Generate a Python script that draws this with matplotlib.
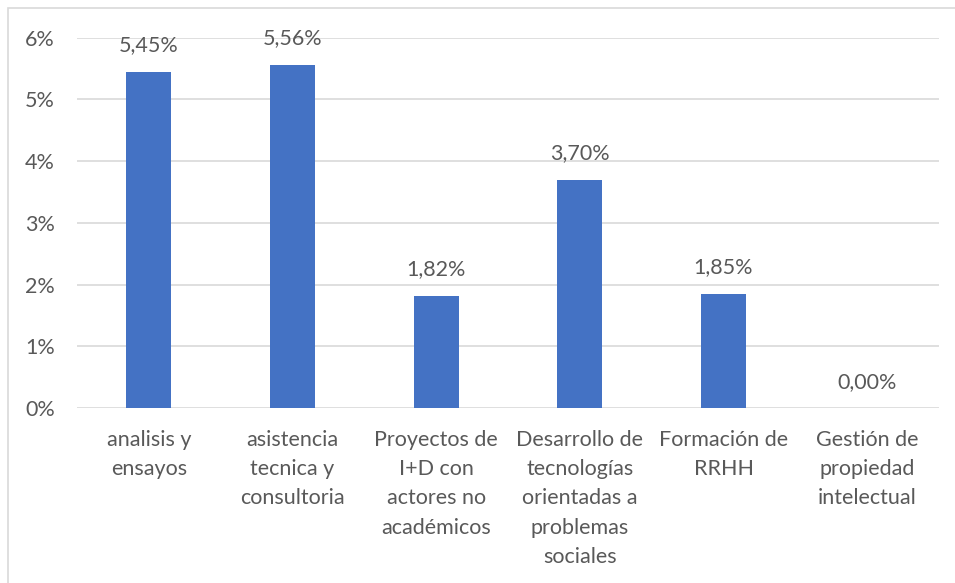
import matplotlib
matplotlib.use("Agg")
import matplotlib.pyplot as plt
from matplotlib.patches import Rectangle
from matplotlib.ticker import FuncFormatter

categories = ["analisis y\nensayos", "asistencia\ntecnica y\nconsultoria",
              "Proyectos de\nI+D con\nactores no\nacadémicos",
              "Desarrollo de\ntecnologías\norientadas a\nproblemas\nsociales",
              "Formación de\nRRHH", "Gestión de\npropiedad\nintelectual"]
values = [0.0545, 0.0556, 0.0182, 0.0370, 0.0185, 0.0000]
value_labels = ["5,45%", "5,56%", "1,82%", "3,70%", "1,85%", "0,00%"]
yticks = [0, 0.01, 0.02, 0.03, 0.04, 0.05, 0.06]

plt.rcParams['font.family'] = ['Lato', 'DejaVu Sans']
text_color = "#595959"
fs = 15.5

fig = plt.figure(figsize=(9.55, 5.83), dpi=100)
ax = fig.add_axes([77/955, 1-408/583, (939-77)/955, (408-37.6)/583])

x = list(range(len(categories)))
ax.bar(x, values, width=0.313, color="#4472C4", zorder=3)
for xi, v, lab in zip(x, values, value_labels):
    ax.annotate(lab, (xi, v), xytext=(0, 19), textcoords="offset points",
                ha="center", va="center", fontsize=fs, color=text_color)

ax.set_xlim(-0.5, len(categories) - 0.5)
ax.set_ylim(0, 0.06)
ax.set_yticks(yticks)
ax.yaxis.set_major_formatter(FuncFormatter(lambda v, p: f"{v*100:.0f}%"))
ax.set_xticks(x)
ax.set_xticklabels(categories, linespacing=1.57)
ax.tick_params(axis="both", length=0, labelsize=fs, labelcolor=text_color)
ax.tick_params(axis="x", pad=16)
ax.tick_params(axis="y", pad=16)
ax.grid(axis="y", color="#D9D9D9", linewidth=1.2, zorder=0)
for s in ax.spines.values():
    s.set_visible(False)

fig.patches.append(Rectangle((8/955, -0.1), 2, (583-8)/583 + 0.1,
                             transform=fig.transFigure, fill=False,
                             edgecolor="#D9D9D9", linewidth=1.2))

fig.savefig("out.png", dpi=100)
